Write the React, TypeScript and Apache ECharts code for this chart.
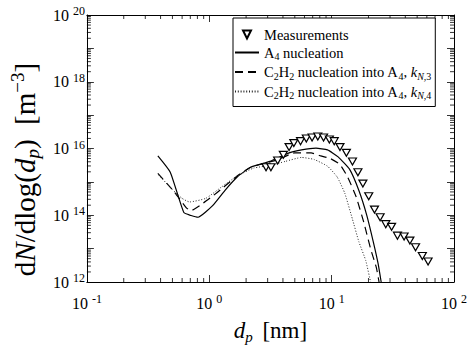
import React, { useEffect, useRef } from 'react';
import * as echarts from 'echarts';

const FONT = 'Liberation Serif';

// Measurements: diameter [nm], dN/dlog(dp) [m^-3]
const measD = [2.91, 3.19, 3.62, 4.03, 4.49, 4.91, 5.57, 6.21, 6.92, 7.71, 8.59, 9.58, 10.5, 11.7, 13.2, 14.8, 16.4, 18.0, 20.1, 22.4, 24.9, 27.7, 30.9, 34.5, 39.1, 43.6, 48.5, 55.1, 61.4];
const measN = [2.75e15, 2.75e15, 4.37e15, 6.46e15, 1.1e16, 1.45e16, 1.66e16, 2.0e16, 2.14e16, 2.29e16, 2.14e16, 1.86e16, 1.66e16, 1.1e16, 7.41e15, 4.07e15, 1.95e15, 8.9e14, 3.7e14, 1.48e14, 8.7e13, 5.4e13, 4.5e13, 2.45e13, 2.3e13, 1.74e13, 1.1e13, 6.0e12, 4.1e12];

// A4 nucleation
const a4D = [0.38, 0.48, 0.62, 0.71, 0.81, 1.06, 1.34, 1.69, 2.18, 3.13, 4.49, 5.68, 7.45, 9.25, 11.3, 14.0, 16.7, 19.4, 21.9, 24.0, 25.4];
const a4N = [6.0e15, 1.95e15, 1.2e14, 9.8e13, 8.7e13, 1.9e14, 5.5e14, 1.4e15, 2.75e15, 4.1e15, 7.4e15, 9.1e15, 1.02e16, 9.1e15, 5.6e15, 2.4e15, 5.5e14, 9.8e13, 1.6e13, 3.5e12, 1.0e12];

// C2H2 nucleation into A4, kN,3
const k3D = [0.38, 0.516, 0.65, 0.71, 0.89, 1.06, 1.27, 1.69, 2.18, 3.55, 5.0, 6.8, 8.15, 9.75, 11.7, 13.5, 15.8, 18.3, 20.8, 23.2, 24.4];
const k3N = [1.8e15, 5.1e14, 1.66e14, 1.38e14, 2.3e14, 3.7e14, 6.3e14, 1.5e15, 2.75e15, 4.5e15, 7.4e15, 7.4e15, 6.0e15, 5.0e15, 3.3e15, 1.4e15, 3.7e14, 6.2e13, 1.0e13, 2.7e12, 1.0e12];

// C2H2 nucleation into A4, kN,4
const k4D = [0.386, 0.5, 0.6, 0.69, 0.935, 1.27, 1.69, 2.31, 3.13, 4.18, 5.68, 7.18, 9.25, 11.1, 12.8, 14.8, 16.7, 19.0, 20.8];
const k4N = [1.6e15, 5.9e14, 3.2e14, 2.5e14, 3.2e14, 7.2e14, 1.5e15, 2.6e15, 3.1e15, 4.1e15, 5.4e15, 4.7e15, 2.95e15, 1.4e15, 4.6e14, 7.6e13, 1.6e13, 4.4e12, 1.0e12];

// Axis ranges and decorations
const X_MIN = 0.1, X_MAX = 100;
const Y_MIN = 1e12, Y_MAX = 1e20;
const X_DECADES = [0.1, 1, 10];
const Y_DECADES = [1e12, 1e13, 1e14, 1e15, 1e16, 1e17, 1e18, 1e19];
const MINOR_MULTS = [2, 3, 4, 5, 6, 7, 8, 9];
const Y_LABEL_EXPONENTS = [12, 14, 16, 18, 20];

const NAMES = [
  'Measurements',
  'A4 nucleation',
  'C2H2 nucleation into A4, kN,3',
  'C2H2 nucleation into A4, kN,4',
];
const LEGEND_RICH: Record<string, string> = {
  'Measurements': '{r|Measurements}',
  'A4 nucleation': '{r|A}{s|4}{r| nucleation}',
  'C2H2 nucleation into A4, kN,3': '{r|C}{s|2}{r|H}{s|2}{r| nucleation into A}{s|4}{r|, }{i|k}{is|N}{s|,3}',
  'C2H2 nucleation into A4, kN,4': '{r|C}{s|2}{r|H}{s|2}{r| nucleation into A}{s|4}{r|, }{i|k}{is|N}{s|,4}',
};

const TRI = 'path://M0,0L10,0L5,9Z';

const zip = (a: number[], b: number[]) => a.map((v, i) => [v, b[i]]);

export default function App() {
  const ref = useRef<HTMLDivElement>(null);
  useEffect(() => {
    if (!ref.current) return;
    const chart = echarts.init(ref.current, undefined, { renderer: 'svg' });

    const xMinor = X_DECADES.flatMap((d) => MINOR_MULTS.map((m) => [m * d, 1e16]));
    const yMinor = Y_DECADES.flatMap((d) => MINOR_MULTS.map((m) => [1, m * d]));

    const tickLine = (x1: number, y1: number, x2: number, y2: number) => ({
      type: 'line',
      shape: { x1, y1, x2, y2 },
      style: { stroke: '#000', lineWidth: 0.8 },
    });

    const supLabel = (v: number) => {
      const e = Math.round(Math.log10(v));
      return `{b|10}{p|${e < 0 ? '-' + -e : e}}`;
    };
    const labelRich = {
      b: { fontFamily: FONT, fontSize: 16, lineHeight: 20, color: '#000' },
      p: { fontFamily: FONT, fontSize: 12, lineHeight: 12, verticalAlign: 'top', color: '#000', padding: [0, 0, 0, 4] },
    };

    const baseAxis = {
      type: 'log',
      logBase: 10,
      interval: 1,
      axisLine: { show: true, onZero: false, lineStyle: { color: '#000', width: 1 } },
      axisTick: { show: true, inside: true, length: 7, lineStyle: { color: '#000', width: 0.8 } },
      splitLine: { show: false },
      minorTick: { show: false },
    };

    const xNameRich = {
      r: { fontFamily: FONT, fontSize: 23, lineHeight: 28, color: '#000' },
      i: { fontFamily: FONT, fontSize: 23, lineHeight: 28, fontStyle: 'italic', color: '#000' },
      is: { fontFamily: FONT, fontSize: 15, lineHeight: 12, verticalAlign: 'bottom', fontStyle: 'italic', color: '#000', padding: [0, 4, 0, 0] },
    };
    const yNameRich = {
      r: { fontFamily: FONT, fontSize: 29, lineHeight: 34, color: '#000' },
      i: { fontFamily: FONT, fontSize: 29, lineHeight: 34, fontStyle: 'italic', color: '#000' },
      is: { fontFamily: FONT, fontSize: 19, lineHeight: 14, verticalAlign: 'bottom', fontStyle: 'italic', color: '#000' },
      p: { fontFamily: FONT, fontSize: 19, lineHeight: 18, verticalAlign: 'top', color: '#000' },
      g: { width: 42, lineHeight: 34 },
    };

    const lineSeries = (name: string, d: number[], n: number[], lineStyle: any) => ({
      name,
      type: 'line',
      xAxisIndex: 0,
      yAxisIndex: 0,
      data: zip(d, n),
      symbol: 'none',
      showSymbol: false,
      smooth: 0.15,
      lineStyle,
      z: 3,
    });

    chart.setOption({
      animation: false,
      backgroundColor: '#fff',
      grid: { left: 76, top: 15, width: 383, height: 277, containLabel: false },
      xAxis: [
        {
          ...baseAxis,
          min: X_MIN,
          max: X_MAX,
          position: 'bottom',
          axisLabel: { show: true, margin: 11, formatter: supLabel, rich: labelRich },
          name: '{i|d}{is|p}{r| [nm]}',
          nameLocation: 'middle',
          nameGap: 34,
          nameTextStyle: { rich: xNameRich },
        },
        {
          ...baseAxis,
          min: X_MIN,
          max: X_MAX,
          position: 'top',
          axisLabel: { show: false },
        },
      ],
      yAxis: [
        {
          ...baseAxis,
          min: Y_MIN,
          max: Y_MAX,
          position: 'left',
          axisLabel: {
            show: true,
            margin: 2,
            formatter: (v: number) => {
              const e = Math.round(Math.log10(v));
              return Y_LABEL_EXPONENTS.includes(e) ? supLabel(v) : '';
            },
            rich: labelRich,
          },
          name: '{r|d}{i|N}{r|/dlog(}{i|d}{is|p}{r|)  [m}{p|−3}{r|]}{g|}',
          nameLocation: 'middle',
          nameGap: 44,
          nameTextStyle: { rich: yNameRich },
        },
        {
          ...baseAxis,
          min: Y_MIN,
          max: Y_MAX,
          position: 'right',
          axisLabel: { show: false },
        },
      ],
      legend: {
        data: [
          { name: NAMES[0] },
          { name: NAMES[1], itemStyle: { opacity: 0 } },
          { name: NAMES[2], itemStyle: { opacity: 0 } },
          { name: NAMES[3], itemStyle: { opacity: 0 } },
        ],
        orient: 'vertical',
        left: 233,
        top: 18,
        padding: [9, 4, 6, 1],
        itemWidth: 24,
        itemHeight: 10,
        itemGap: 3,
        borderColor: '#000',
        borderWidth: 1,
        borderRadius: 0,
        backgroundColor: '#fff',
        formatter: (name: string) => LEGEND_RICH[name] || name,
        textStyle: {
          fontFamily: FONT,
          color: '#000',
          rich: {
            r: { fontFamily: FONT, fontSize: 14.5, lineHeight: 18, color: '#000' },
            i: { fontFamily: FONT, fontSize: 14.5, lineHeight: 18, fontStyle: 'italic', color: '#000' },
            s: { fontFamily: FONT, fontSize: 10, lineHeight: 8, verticalAlign: 'bottom', color: '#000' },
            is: { fontFamily: FONT, fontSize: 10, lineHeight: 8, verticalAlign: 'bottom', fontStyle: 'italic', color: '#000' },
          },
        },
      },
      series: [
        {
          name: NAMES[0],
          type: 'line',
          xAxisIndex: 0,
          yAxisIndex: 0,
          data: zip(measD, measN),
          symbol: TRI,
          symbolSize: [8, 7],
          showSymbol: true,
          lineStyle: { width: 0, opacity: 0 },
          itemStyle: { color: '#fff', borderColor: '#000', borderWidth: 1.2 },
          z: 4,
        },
        lineSeries(NAMES[1], a4D, a4N, { color: '#000', width: 1.2, type: 'solid' }),
        lineSeries(NAMES[2], k3D, k3N, { color: '#000', width: 1.2, type: [8, 5] }),
        lineSeries(NAMES[3], k4D, k4N, { color: '#222', width: 1, type: [1, 1.8] }),
        {
          name: 'xMinorTicks',
          type: 'custom',
          xAxisIndex: 0,
          yAxisIndex: 0,
          silent: true,
          clip: false,
          data: xMinor,
          renderItem: (params: any, api: any) => {
            const x = api.coord([api.value(0), 1e16])[0];
            const cs = params.coordSys;
            return {
              type: 'group',
              children: [
                tickLine(x, cs.y + cs.height, x, cs.y + cs.height - 4),
                tickLine(x, cs.y, x, cs.y + 4),
              ],
            };
          },
        },
        {
          name: 'yMinorTicks',
          type: 'custom',
          xAxisIndex: 0,
          yAxisIndex: 0,
          silent: true,
          clip: false,
          data: yMinor,
          renderItem: (params: any, api: any) => {
            const y = api.coord([1, api.value(1)])[1];
            const cs = params.coordSys;
            return {
              type: 'group',
              children: [
                tickLine(cs.x, y, cs.x + 4, y),
                tickLine(cs.x + cs.width, y, cs.x + cs.width - 4, y),
              ],
            };
          },
        },
      ],
    });
    return () => chart.dispose();
  }, []);
  return <div ref={ref} style={{ width: 470, height: 349, position: 'fixed', left: 0, top: 0 }} />;
}
